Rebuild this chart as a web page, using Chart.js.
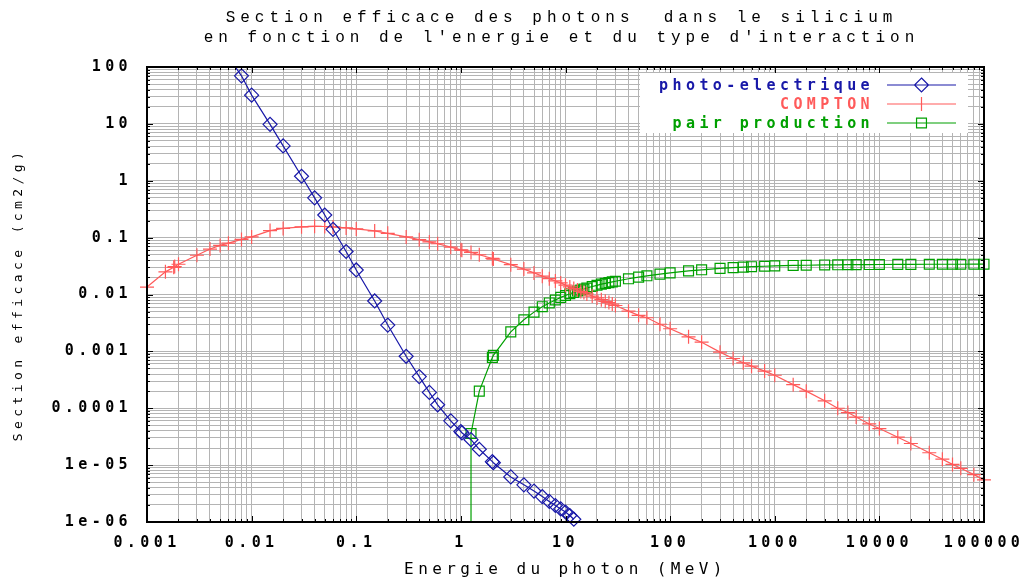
<!DOCTYPE html>
<html>
<head>
<meta charset="utf-8">
<title>Section efficace des photons dans le silicium</title>
<script src="https://cdn.jsdelivr.net/npm/chart.js@4.4.1/dist/chart.umd.min.js"></script>
<style>
  html, body { margin: 0; padding: 0; background: #fff; }
  canvas { display: block; }
</style>
</head>
<body>
<canvas id="chart" width="1028" height="579"></canvas>
<script>
// valeurs (MeV, cm2/g)
const photoE = [0.006, 0.008, 0.01, 0.015, 0.02, 0.03, 0.04, 0.05, 0.06, 0.08, 0.1, 0.15, 0.2, 0.3, 0.4, 0.5, 0.6, 0.8,
                1, 1.022, 1.25, 1.5, 2, 2.044, 3, 4, 5, 6, 7, 8, 9, 10, 11, 12];
const photoV = [150, 70, 32, 9.8, 4.1, 1.2, 0.5, 0.25, 0.14, 0.057, 0.027, 0.0077, 0.0029, 0.00082, 0.00036, 0.00019, 0.000115, 6.0e-5,
                3.9e-5, 3.7e-5, 2.8e-5, 1.9e-5, 1.15e-5, 1.1e-5, 6.2e-6, 4.5e-6, 3.5e-6, 2.8e-6, 2.3e-6, 1.95e-6, 1.7e-6, 1.5e-6, 1.3e-6, 1.12e-6];

const comptonE = [0.001, 0.0015, 0.0018, 0.00184, 0.002, 0.003, 0.004, 0.005, 0.006, 0.008, 0.01, 0.015, 0.02, 0.03, 0.04, 0.05, 0.06, 0.08,
                  0.1, 0.15, 0.2, 0.3, 0.4, 0.5, 0.6, 0.8, 1, 1.022, 1.25, 1.5, 2, 2.044, 3, 4, 5, 6, 7, 8, 9, 10,
                  11, 12, 13, 14, 15, 16, 18, 20, 22, 24, 26, 28, 30, 40, 50, 60, 80, 100, 150, 200, 300, 400, 500, 600, 800,
                  1000, 1500, 2000, 3000, 4000, 5000, 6000, 8000, 10000, 15000, 20000, 30000, 40000, 50000, 60000, 80000, 100000];
const comptonV = [0.0135, 0.025, 0.030, 0.031, 0.034, 0.049, 0.063, 0.073, 0.080, 0.093, 0.103, 0.133, 0.145, 0.155, 0.158, 0.157, 0.154, 0.148,
                  0.142, 0.131, 0.119, 0.103, 0.092, 0.084, 0.078, 0.068, 0.061, 0.060, 0.055, 0.050, 0.043, 0.042, 0.0335, 0.028, 0.024, 0.021, 0.019, 0.0173, 0.016, 0.0146,
                  0.0136, 0.0127, 0.012, 0.0113, 0.0108, 0.0102, 0.0094, 0.0087, 0.0081, 0.0076, 0.0072, 0.0068, 0.0064, 0.0051, 0.0043, 0.0039, 0.0030, 0.0025, 0.0018, 0.00145, 0.00097, 0.00075, 0.00063, 0.00055, 0.00045,
                  0.00038, 0.00026, 0.0002, 0.000135, 0.0001, 8.4e-5, 7.0e-5, 5.3e-5, 4.4e-5, 3.1e-5, 2.4e-5, 1.65e-5, 1.27e-5, 1.03e-5, 8.8e-6, 6.8e-6, 5.5e-6];

// premier point sous l'axe : la courbe tombe a la verticale au seuil
const pairE = [1.25, 1.25, 1.5, 2, 2.044, 3, 4, 5, 6, 7, 8, 9, 10, 11, 12, 13, 14, 15, 16, 18, 20, 22, 24, 26, 28, 30,
               40, 50, 60, 80, 100, 150, 200, 300, 400, 500, 600, 800, 1000, 1500, 2000, 3000, 4000, 5000, 6000, 8000,
               10000, 15000, 20000, 30000, 40000, 50000, 60000, 80000, 100000];
const pairV = [1e-9, 3.6e-5, 0.0002, 0.00078, 0.00085, 0.0022, 0.0036, 0.0049, 0.0061, 0.0071, 0.0080, 0.0089, 0.0096, 0.0103, 0.0109, 0.0115, 0.0120, 0.0125, 0.0130, 0.0138, 0.0145, 0.0152, 0.0157, 0.0162, 0.0167, 0.0171,
               0.0189, 0.0202, 0.0213, 0.0228, 0.0240, 0.0260, 0.0272, 0.0288, 0.0297, 0.0303, 0.0308, 0.0314, 0.0318, 0.0324, 0.0327, 0.0331, 0.0333, 0.0334, 0.0335, 0.0336,
               0.0337, 0.0338, 0.0339, 0.0340, 0.0340, 0.0340, 0.0340, 0.0341, 0.0341];

const xTicks = [0.001, 0.01, 0.1, 1, 10, 100, 1000, 10000, 100000];
const xTickLabels = ['0.001', '0.01', '0.1', '1', '10', '100', '1000', '10000', '100000'];
const yTicks = [1e-6, 1e-5, 1e-4, 0.001, 0.01, 0.1, 1, 10, 100];
const yTickLabels = ['1e-06', '1e-05', '0.0001', '0.001', '0.01', '0.1', '1', '10', '100'];

const seriesNames = ['photo-electrique', 'COMPTON', 'pair production'];
const seriesColors = ['#1818a8', '#ff5a5a', '#00a000'];
const seriesMarkers = ['rectRot', 'cross', 'rect'];

const titleLines = ['Section efficace des photons  dans le silicium', "en fonction de l'energie et du type d'interaction"];

// grille : 1..9 par decade
function decadeGrid(majors) {
    const out = [];
    for (let i = 0; i < majors.length - 1; i++) {
        for (let d = 1; d <= 9; d++) out.push(d * majors[i]);
    }
    out.push(majors[majors.length - 1]);
    return out;
}

function labelFor(value, ticks, labels) {
    const i = ticks.findIndex(t => Math.abs(Math.log10(t) - Math.log10(value)) < 1e-6);
    return i >= 0 ? labels[i] : '';
}

function isMajor(value, ticks) {
    return labelFor(value, ticks, ticks.map(() => 'x')) !== '';
}

function makeSet(i, xs, ys, bottomClip) {
    return {
        label: seriesNames[i],
        data: xs.map((x, k) => ({ x: x, y: ys[k] })),
        showLine: true,
        borderColor: seriesColors[i],
        borderWidth: 1.2,
        pointStyle: seriesMarkers[i],
        pointRadius: 7,
        pointBorderColor: seriesColors[i],
        pointBackgroundColor: 'rgba(0,0,0,0)',
        pointBorderWidth: 1.2,
        tension: 0,
        clip: { left: 10, right: 10, top: 0, bottom: bottomClip }
    };
}

const SPACING = '4.4px';
const monoFont = '"DejaVu Sans Mono", monospace';

// espacement des lettres (police gnuplot tres large)
const spacingPlugin = {
    id: 'spacing',
    beforeUpdate(chart) { chart.ctx.letterSpacing = SPACING; },
    beforeDraw(chart) { chart.ctx.letterSpacing = SPACING; }
};

// cadre, petites graduations, legende et titre
const framePlugin = {
    id: 'frame',
    afterDatasetsDraw(chart) {
        const { ctx, chartArea: a, scales: { x, y } } = chart;
        ctx.save();
        ctx.strokeStyle = '#000';
        ctx.lineWidth = 1;
        ctx.beginPath();
        x.ticks.forEach(t => {
            const px = Math.round(x.getPixelForValue(t.value)) + 0.5;
            const len = isMajor(t.value, xTicks) ? 6 : 3;
            ctx.moveTo(px, a.bottom); ctx.lineTo(px, a.bottom - len);
            ctx.moveTo(px, a.top); ctx.lineTo(px, a.top + len);
        });
        y.ticks.forEach(t => {
            const py = Math.round(y.getPixelForValue(t.value)) + 0.5;
            const len = isMajor(t.value, yTicks) ? 6 : 3;
            ctx.moveTo(a.left, py); ctx.lineTo(a.left + len, py);
            ctx.moveTo(a.right, py); ctx.lineTo(a.right - len, py);
        });
        ctx.stroke();
        ctx.lineWidth = 2;
        ctx.strokeRect(a.left, a.top, a.right - a.left, a.bottom - a.top);

        // legende
        const boxL = a.right - 344, boxT = a.top + 6;
        ctx.fillStyle = '#fff';
        ctx.fillRect(boxL, boxT, 328, 60);
        ctx.font = 'bold 15px ' + monoFont;
        ctx.letterSpacing = SPACING;
        ctx.textAlign = 'right';
        ctx.textBaseline = 'middle';
        seriesNames.forEach((name, i) => {
            const cy = boxT + 12 + i * 19;
            const textR = a.right - 110;
            const x0 = a.right - 97, x1 = a.right - 28, cx = (x0 + x1) / 2;
            ctx.fillStyle = seriesColors[i];
            ctx.fillText(name, textR, cy + 1);
            ctx.strokeStyle = seriesColors[i];
            ctx.lineWidth = 1.2;
            ctx.beginPath();
            ctx.moveTo(x0, cy); ctx.lineTo(x1, cy);
            const r = 7;
            if (seriesMarkers[i] === 'rectRot') {
                ctx.moveTo(cx, cy - r); ctx.lineTo(cx + r, cy); ctx.lineTo(cx, cy + r); ctx.lineTo(cx - r, cy); ctx.closePath();
            } else if (seriesMarkers[i] === 'cross') {
                ctx.moveTo(cx, cy - r); ctx.lineTo(cx, cy + r);
            } else {
                const h = r * Math.SQRT1_2;
                ctx.rect(cx - h, cy - h, 2 * h, 2 * h);
            }
            ctx.stroke();
        });
        ctx.restore();
    },
    afterDraw(chart) {
        const { ctx, chartArea: a } = chart;
        ctx.save();
        ctx.fillStyle = '#000';
        ctx.font = '16px "Liberation Mono", monospace';
        ctx.letterSpacing = '5px';
        ctx.textAlign = 'center';
        ctx.textBaseline = 'middle';
        const cx = (a.left + a.right) / 2 - 4;
        titleLines.forEach((line, i) => ctx.fillText(line, cx, 18 + i * 20));
        ctx.restore();
    }
};

new Chart(document.getElementById('chart'), {
    type: 'scatter',
    data: {
        datasets: [
            makeSet(0, photoE, photoV, 6),
            makeSet(1, comptonE, comptonV, 6),
            makeSet(2, pairE, pairV, 0)
        ]
    },
    options: {
        responsive: false,
        animation: false,
        devicePixelRatio: 1,
        layout: { padding: { top: 67, right: 44, bottom: 0, left: 0 } },
        plugins: {
            legend: { display: false },
            title: { display: false },
            tooltip: { enabled: false }
        },
        scales: {
            x: {
                type: 'logarithmic',
                position: 'bottom',
                min: 0.001,
                max: 100000,
                afterBuildTicks: s => { s.ticks = decadeGrid(xTicks).map(v => ({ value: v })); },
                afterFit: s => { s.height = 57; s.paddingLeft = 0; s.paddingRight = 0; },
                grid: { color: '#b4b4b4', lineWidth: 1, drawTicks: false },
                border: { display: false },
                ticks: {
                    autoSkip: false, maxRotation: 0, minRotation: 0, padding: 12, color: '#000',
                    font: { family: monoFont, size: 15, weight: 'bold' },
                    callback: v => labelFor(v, xTicks, xTickLabels)
                },
                title: {
                    display: true, text: 'Energie du photon (MeV)', color: '#000',
                    font: { family: monoFont, size: 16 }, padding: { top: 0, bottom: 0 }
                }
            },
            y: {
                type: 'logarithmic',
                position: 'left',
                min: 1e-6,
                max: 100,
                afterBuildTicks: s => { s.ticks = decadeGrid(yTicks).map(v => ({ value: v })); },
                afterFit: s => { s.width = 147; s.paddingTop = 0; s.paddingBottom = 0; },
                grid: { color: '#b4b4b4', lineWidth: 1, drawTicks: false },
                border: { display: false },
                ticks: {
                    autoSkip: false, padding: 15, color: '#000',
                    font: { family: monoFont, size: 15, weight: 'bold' },
                    callback: v => labelFor(v, yTicks, yTickLabels)
                },
                title: {
                    display: true, text: 'Section efficace (cm2/g)', color: '#000',
                    font: { family: monoFont, size: 13 }, padding: { top: 11, bottom: 0 }
                }
            }
        }
    },
    plugins: [spacingPlugin, framePlugin]
});
</script>
</body>
</html>
